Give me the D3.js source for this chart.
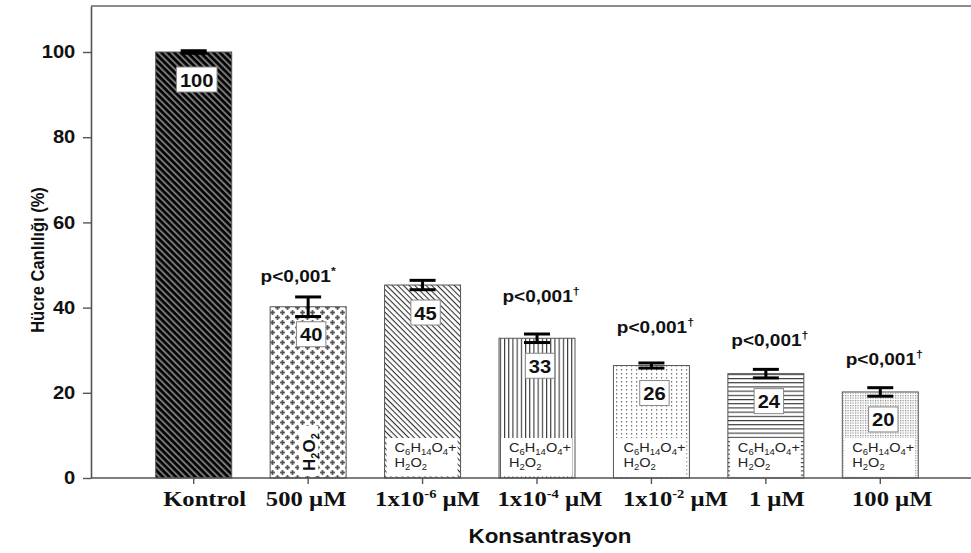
<!DOCTYPE html>
<html><head><meta charset="utf-8">
<script src="https://cdn.jsdelivr.net/npm/d3@7"></script>
<style>
html,body{margin:0;padding:0;background:#fff;}
svg{display:block;}
</style></head>
<body>
<div id="chart"></div>
<script>
// ---- data ----
const categories = ["Kontrol","500 µM","1x10-6 µM","1x10-4 µM","1x10-2 µM","1 µM","100 µM"];
const tickMain = ["Kontrol","500 µM","1x10","1x10","1x10","1 µM","100 µM"];
const tickSup  = ["","","-6","-4","-2","",""];
const tickTail = ["","", " µM"," µM"," µM","",""];
const means    = [100, 40.2, 45.3, 32.8, 26.4, 24.5, 20.2];
const errors   = [0.3, 2.3, 1.1, 1.0, 0.6, 1.0, 1.0];
const valueLabels = ["100","40","45","33","26","24","20"];
const pText    = ["", "p<0,001", "", "p<0,001", "p<0,001", "p<0,001", "p<0,001"];
const pSup     = ["", "*", "", "†", "†", "†", "†"];
const pLevel   = [0, 46.0, 0, 41.3, 34.0, 31.0, 26.5];
const innerLabel = ["none","h2o2","mix","mix","mix","mix","mix"];
const patterns = ["pKontrol","pPlus","pDiag","pVert","pDots","pHoriz","pStipple"];
const yTicks = [0,20,40,60,80,100];
const yMax = 110.8;
// layout: horizontal nudges of the category labels (hand placed in the original)
const labelShift = [11, -2, 5, 13, 24, 11, 12];

// ---- setup ----
const W = 971, H = 553, SX = 1.12;
const svg = d3.select("#chart").append("svg").attr("width", W).attr("height", H);
const defs = svg.append("defs");

function pat(id, w, h, transform, bg, draw){
  const p = defs.append("pattern").attr("id", id).attr("patternUnits","userSpaceOnUse")
    .attr("width", w).attr("height", h);
  if (transform) p.attr("patternTransform", transform);
  p.append("rect").attr("width", w).attr("height", h).attr("fill", bg);
  draw(p);
}
pat("pKontrol", 4.6, 4.6, "rotate(45)", "#777", p => p.append("rect").attr("x",0).attr("y",0).attr("width",4.6).attr("height",2.6).attr("fill","#000"));
pat("pPlus", 10, 10, null, "#fff", p => {
  [[2.5,2.5],[7.5,7.5]].forEach(([cx,cy]) => {
    p.append("rect").attr("x",cx-0.9).attr("y",cy-2.4).attr("width",1.8).attr("height",4.8).attr("fill","#555");
    p.append("rect").attr("x",cx-2.4).attr("y",cy-0.9).attr("width",4.8).attr("height",1.8).attr("fill","#555");
  });
});
pat("pDiag", 4, 4, "rotate(45)", "#fff", p => p.append("rect").attr("width",4).attr("height",1.1).attr("fill","#333"));
pat("pVert", 4.2, 4, null, "#fff", p => p.append("rect").attr("width",1.1).attr("height",4).attr("fill","#333"));
pat("pDots", 5, 4, null, "#fff", p => p.append("rect").attr("x",1).attr("y",1).attr("width",1.2).attr("height",1.6).attr("fill","#777"));
pat("pHoriz", 4, 4.2, null, "#fff", p => p.append("rect").attr("width",4).attr("height",1.1).attr("fill","#333"));
pat("pStipple", 2.5, 2.5, null, "#fff", p => p.append("rect").attr("width",1.2).attr("height",1.2).attr("fill","#888"));

const y = d3.scaleLinear().domain([0, yMax]).range([478, 6]);
const x = d3.scaleBand().domain(categories).range([136.5, 937.5]).paddingInner(0.336).paddingOuter(0.168);
const bw = x.bandwidth();
const cx = c => x(c) + bw/2;

// frame line
svg.append("line").attr("x1",91).attr("x2",W).attr("y1",y(yMax)).attr("y2",y(yMax)).attr("stroke","#666").attr("stroke-width",1.6);

// y axis
const gy = svg.append("g").attr("transform","translate(91,0)")
  .call(d3.axisLeft(y).tickValues(yTicks).tickSize(8).tickSizeOuter(0).tickPadding(6));
gy.select(".domain").attr("stroke","#555").attr("stroke-width",1.6);
gy.selectAll(".tick line").attr("stroke","#555").attr("stroke-width",1.4);
gy.selectAll(".tick text").attr("font-family","Liberation Sans, Arial, sans-serif").attr("font-size",18)
  .attr("font-weight","bold").attr("fill","#111").attr("transform",`scale(${SX},1)`);

// bars
svg.append("g").selectAll("rect").data(categories).join("rect")
  .attr("x", c => x(c)).attr("width", bw)
  .attr("y", (c,i) => y(means[i])).attr("height", (c,i) => y(0) - y(means[i]))
  .attr("fill", (c,i) => `url(#${patterns[i]})`).attr("stroke","#555").attr("stroke-width",1);

// x axis
const gx = svg.append("g").attr("transform",`translate(0,${y(0)})`)
  .call(d3.axisBottom(x).tickSize(6).tickSizeOuter(0).tickPadding(6));
gx.select(".domain").remove();
gx.selectAll(".tick line").attr("stroke","#555").attr("stroke-width",1.4);
svg.append("line").attr("x1",91).attr("x2",W).attr("y1",y(0)).attr("y2",y(0)).attr("stroke","#555").attr("stroke-width",1.6);
gx.selectAll(".tick text").each(function(c){
  const i = categories.indexOf(c);
  const t = d3.select(this).text(null)
    .attr("font-family","Liberation Serif, Times New Roman, serif").attr("font-size",22)
    .attr("font-weight","bold").attr("fill","#111").attr("transform",`translate(${labelShift[i]},0) scale(${SX},1)`);
  t.append("tspan").text(tickMain[i]);
  if (tickSup[i]) {
    t.append("tspan").attr("dy",-8).attr("font-size",13).text(tickSup[i]);
    t.append("tspan").attr("dy",8).text(tickTail[i]);
  }
});

// inner bottom labels
function chem(t, parts, size, subSize, shift){
  parts.forEach(([s,sub],k,arr) => {
    const prev = k>0 ? arr[k-1][1] : 0;
    const dy = (sub && !prev) ? shift : (!sub && prev ? -shift : 0);
    t.append("tspan").attr("dy",dy).attr("font-size", sub?subSize:size).text(s);
  });
}
categories.forEach((c,i) => {
  const g = svg.append("g");
  if (innerLabel[i] === "mix") {
    g.append("rect").attr("x", x(c)+2).attr("y", 438).attr("width", bw-5).attr("height", y(0)-438-1.5)
      .attr("fill","#fff");
    const t1 = g.append("text").attr("transform",`translate(${x(c)+10},452) scale(${SX},1)`)
      .attr("font-family","Liberation Sans, Arial, sans-serif").attr("font-size",13).attr("fill","#222");
    chem(t1, [["C",0],["6",1],["H",0],["14",1],["O",0],["4",1],["+",0]], 13, 8.5, 3);
    const t2 = g.append("text").attr("transform",`translate(${x(c)+10},467) scale(${SX},1)`)
      .attr("font-family","Liberation Sans, Arial, sans-serif").attr("font-size",13).attr("fill","#222");
    chem(t2, [["H",0],["2",1],["O",0],["2",1]], 13, 8.5, 3);
  } else if (innerLabel[i] === "h2o2") {
    g.append("rect").attr("x", cx(c)-9).attr("y", 426).attr("width", 19).attr("height", y(0)-426-2).attr("fill","#fff");
    const t = g.append("text").attr("transform",`translate(${cx(c)+7},471) rotate(-90)`)
      .attr("font-family","Liberation Sans, Arial, sans-serif").attr("font-size",17).attr("font-weight","bold").attr("fill","#111");
    chem(t, [["H",0],["2",1],["O",0],["2",1]], 17, 11, 4);
  }
});

// error bars
const eg = svg.append("g").attr("stroke","#000").attr("stroke-width",3);
categories.forEach((c,i) => {
  const lo = y(means[i]-errors[i]), hi = y(means[i]+errors[i]);
  eg.append("line").attr("x1",cx(c)).attr("x2",cx(c)).attr("y1",lo).attr("y2",hi);
  eg.append("line").attr("x1",cx(c)-13).attr("x2",cx(c)+13).attr("y1",lo).attr("y2",lo);
  eg.append("line").attr("x1",cx(c)-13).attr("x2",cx(c)+13).attr("y1",hi).attr("y2",hi);
});

// value boxes
categories.forEach((c,i) => {
  const g = svg.append("g");
  const top = y(means[i]) + 15;
  const rect = g.append("rect");
  const t = g.append("text").attr("transform",`translate(${cx(c)+3},${top+19.5}) scale(${SX},1)`)
    .attr("text-anchor","middle").attr("font-family","Liberation Sans, Arial, sans-serif")
    .attr("font-size",18).attr("font-weight","bold").attr("fill","#111").text(valueLabels[i]);
  const tw = t.node().getComputedTextLength() * SX;
  rect.attr("x", cx(c)+3 - tw/2 - 3.5).attr("y", top).attr("width", tw + 7).attr("height", 25)
    .attr("fill","#fff").attr("stroke","#888").attr("stroke-width",1);
});

// p labels
categories.forEach((c,i) => {
  if (!pText[i]) return;
  const t = svg.append("text").attr("transform",`translate(${cx(c)+(i===1?-10:4)},${y(pLevel[i])}) scale(${SX},1)`)
    .attr("text-anchor","middle").attr("font-family","Liberation Sans, Arial, sans-serif")
    .attr("font-size",17).attr("font-weight","bold").attr("fill","#111");
  t.append("tspan").text(pText[i]);
  t.append("tspan").attr("dy",-7).attr("font-size",11).text(pSup[i]);
});

// axis titles
svg.append("text").attr("transform",`translate(550,543) scale(${SX},1)`).attr("text-anchor","middle")
  .attr("font-family","Liberation Sans, Arial, sans-serif").attr("font-size",20).attr("font-weight","bold")
  .attr("fill","#111").text("Konsantrasyon");
svg.append("text").attr("transform",`translate(44,260) scale(${SX},1) rotate(-90)`).attr("text-anchor","middle")
  .attr("font-family","Liberation Sans, Arial, sans-serif").attr("font-size",16.5).attr("font-weight","bold")
  .attr("fill","#111").text("Hücre Canlılığı (%)");
</script>
</body></html>
